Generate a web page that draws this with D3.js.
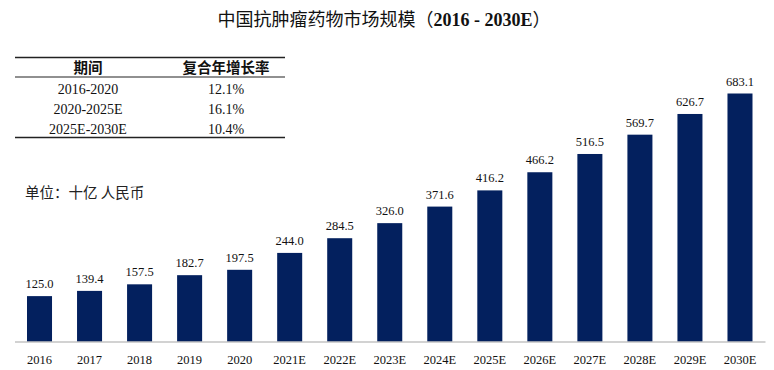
<!DOCTYPE html>
<html>
<head>
<meta charset="utf-8">
<script src="https://cdn.jsdelivr.net/npm/d3@7"></script>
<style>
  body { margin: 0; background: #fff; }
  svg { display: block; }
</style>
</head>
<body>
<svg id="chart" width="774" height="370"></svg>
<script>
// market size, RMB bn
const years = ['2016', '2017', '2018', '2019', '2020', '2021E', '2022E', '2023E',
  '2024E', '2025E', '2026E', '2027E', '2028E', '2029E', '2030E'];
const values = [125.0, 139.4, 157.5, 182.7, 197.5, 244.0, 284.5, 326.0,
  371.6, 416.2, 466.2, 516.5, 569.7, 626.7, 683.1];

// CAGR table
const periods = ['2016-2020', '2020-2025E', '2025E-2030E'];
const cagrs = ['12.1%', '16.1%', '10.4%'];

const serif = '"Liberation Serif", "Times New Roman", serif';
const cjk = '"Noto Sans CJK SC", sans-serif';
const navy = '#03205e';

const svg = d3.select('#chart');

// title
const title = svg.append('text')
  .attr('x', 384)
  .attr('y', 26)
  .attr('text-anchor', 'middle')
  .attr('font-size', 18)
  .attr('fill', '#111');
title.append('tspan').attr('font-family', cjk).text('中国抗肿瘤药物市场规模（');
title.append('tspan').attr('font-family', serif).attr('font-weight', 'bold').text('2016 - 2030E');
title.append('tspan').attr('font-family', cjk).text('）');

// scales
const x = d3.scaleBand()
  .domain(years)
  .range([14.5, 765])
  .paddingInner(0.5)
  .paddingOuter(0.25);

const y = d3.scaleLinear()
  .domain([0, 683.1])
  .range([341.5, 93.5]);

// bars
svg.append('g')
  .selectAll('rect')
  .data(values)
  .join('rect')
  .attr('x', (d, i) => x(years[i]))
  .attr('y', d => y(d))
  .attr('width', x.bandwidth())
  .attr('height', d => y(0) - y(d))
  .attr('fill', navy);

// value labels
svg.append('g')
  .selectAll('text')
  .data(values)
  .join('text')
  .attr('x', (d, i) => x(years[i]) + x.bandwidth() / 2)
  .attr('y', d => y(d) - 8)
  .attr('text-anchor', 'middle')
  .attr('font-family', serif)
  .attr('font-size', 12.5)
  .attr('fill', '#111')
  .text(d => d.toFixed(1));

// x axis
const xAxis = svg.append('g')
  .attr('transform', `translate(0,${y(0)})`)
  .call(d3.axisBottom(x).tickSize(0).tickPadding(14));
xAxis.select('.domain').attr('stroke', '#a6a6a6').attr('stroke-width', 1.2);
xAxis.selectAll('text')
  .attr('font-family', serif)
  .attr('font-size', 12.5)
  .attr('fill', '#111');

// unit note
svg.append('text')
  .attr('x', 25)
  .attr('y', 198)
  .attr('font-family', cjk)
  .attr('font-size', 14.5)
  .attr('fill', '#222')
  .text('单位：十亿 人民币');

// CAGR table
const table = svg.append('g');
const col1 = 88, col2 = 226;
[57.5, 77, 137.5].forEach((ly, i) => {
  table.append('line')
    .attr('x1', 15).attr('x2', 285)
    .attr('y1', ly).attr('y2', ly)
    .attr('stroke', '#222')
    .attr('stroke-width', i === 1 ? 1.2 : 1.6);
});
table.append('text')
  .attr('x', col1).attr('y', 73)
  .attr('text-anchor', 'middle')
  .attr('font-family', cjk).attr('font-weight', 'bold')
  .attr('font-size', 14.5).attr('fill', '#111')
  .text('期间');
table.append('text')
  .attr('x', col2).attr('y', 73)
  .attr('text-anchor', 'middle')
  .attr('font-family', cjk).attr('font-weight', 'bold')
  .attr('font-size', 14.5).attr('fill', '#111')
  .text('复合年增长率');

periods.forEach((p, i) => {
  const ry = 93.5 + i * 20;
  table.append('text')
    .attr('x', col1).attr('y', ry)
    .attr('text-anchor', 'middle')
    .attr('font-family', serif).attr('font-size', 14).attr('fill', '#111')
    .text(p);
  table.append('text')
    .attr('x', col2).attr('y', ry)
    .attr('text-anchor', 'middle')
    .attr('font-family', serif).attr('font-size', 14).attr('fill', '#111')
    .text(cagrs[i]);
});
</script>
</body>
</html>
